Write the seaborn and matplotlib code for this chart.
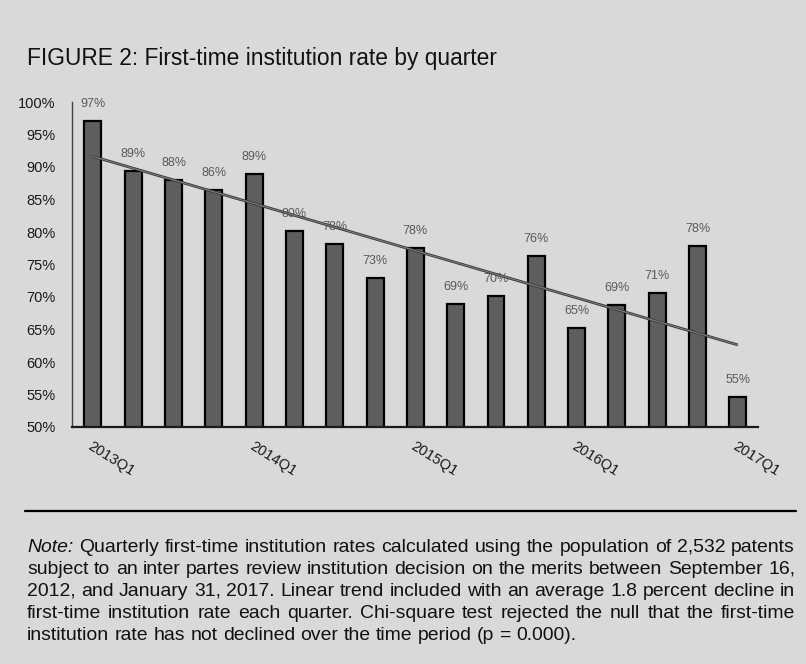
import numpy as np
import pandas as pd
import matplotlib
matplotlib.use("Agg")
import matplotlib.pyplot as plt
import seaborn as sns

# Quarterly first-time institution rates (percent)
quarters = ["2013Q1", "2013Q2", "2013Q3", "2013Q4",
            "2014Q1", "2014Q2", "2014Q3", "2014Q4",
            "2015Q1", "2015Q2", "2015Q3", "2015Q4",
            "2016Q1", "2016Q2", "2016Q3", "2016Q4",
            "2017Q1"]
rates = [97.1, 89.4, 88.0, 86.4, 88.9, 80.1, 78.2, 72.9, 77.6,
         68.9, 70.2, 76.3, 65.3, 68.8, 70.6, 77.8, 54.6]
tick_quarters = ["2013Q1", "2014Q1", "2015Q1", "2016Q1", "2017Q1"]
y_ticks = [50, 55, 60, 65, 70, 75, 80, 85, 90, 95, 100]

title = "FIGURE 2: First-time institution rate by quarter"
note_lines = [
    "Note: Quarterly first-time institution rates calculated using the population of 2,532 patents",
    "subject to an inter partes review institution decision on the merits between September 16,",
    "2012, and January 31, 2017. Linear trend included with an average 1.8 percent decline in",
    "first-time institution rate each quarter. Chi-square test rejected the null that the first-time",
    "institution rate has not declined over the time period (p = 0.000).",
]

sns.set_style("white")
plt.rcParams["font.family"] = ["Liberation Sans", "DejaVu Sans"]

BG = "#d9d9d9"
W_PX, H_PX = 806, 664
fig = plt.figure(figsize=(W_PX / 100, H_PX / 100), dpi=100, facecolor=BG)

def fx(px):
    return px / W_PX

def fy(py):
    return 1 - py / H_PX

ax = fig.add_axes([fx(72), fy(427), fx(758) - fx(72), fy(102) - fy(427)])
ax.set_facecolor(BG)

df = pd.DataFrame({"quarter": quarters, "rate": rates})
sns.barplot(data=df, x="quarter", y="rate", color="#5e5e5e", saturation=1,
            edgecolor="black", linewidth=1.6, width=0.42, ax=ax, zorder=2)

ax.set_ylim(50, 100)
ax.set_xlim(-0.52, len(quarters) - 0.5)
ax.set_yticks(y_ticks)
ax.set_yticklabels([f"{v}%" for v in y_ticks], fontsize=10.5, color="#1a1a1a")
tick_pos = [quarters.index(q) for q in tick_quarters]
ax.set_xticks(tick_pos)
ax.set_xticklabels(tick_quarters, rotation=-32, ha="left", va="top",
                   rotation_mode="anchor", fontsize=10.5, color="#1a1a1a")
ax.tick_params(axis="x", length=0, pad=9)
ax.tick_params(axis="y", length=0, pad=12)
ax.set_xlabel("")
ax.set_ylabel("")

for side in ["top", "right"]:
    ax.spines[side].set_visible(False)
ax.spines["left"].set_color("#404040")
ax.spines["left"].set_linewidth(1.0)
ax.spines["bottom"].set_color("#1a1a1a")
ax.spines["bottom"].set_linewidth(1.6)
ax.spines["bottom"].set_zorder(4)

# value labels
for i, v in enumerate(rates):
    ax.annotate(f"{v:.0f}%", (i, v), xytext=(0, 14), textcoords="offset pixels",
                ha="center", va="baseline", fontsize=9, color="#5a5a5a", zorder=3)

# linear trend
xs = np.arange(len(rates))
slope, intercept = np.polyfit(xs, rates, 1)
ends = np.array([xs[0], xs[-1]])
ax.plot(ends, intercept + slope * ends, color="#3c3c3c", lw=2.0, zorder=5,
        solid_capstyle="butt")
ax.plot(ends, intercept + slope * ends, color="#8c8c8c", lw=0.6, zorder=6,
        solid_capstyle="butt")

# title
fig.text(fx(27), fy(65), title, fontsize=16.4, color="#111111", va="baseline", ha="left")

# separator rule
fig.add_artist(plt.Line2D([fx(25), fx(796)], [fy(511), fy(511)],
                          color="black", lw=1.6, transform=fig.transFigure))

# justified note paragraph
fig.canvas.draw()
renderer = fig.canvas.get_renderer()

def text_width(s, size, style="normal"):
    t = fig.text(0, 0, s, fontsize=size, fontstyle=style)
    w = t.get_window_extent(renderer).width
    t.remove()
    return w

left_px, right_px = 27, 795
span = right_px - left_px
base = 12.0
widest = max(text_width(l, base) for l in note_lines[:-1])
note_size = base * span * 0.995 / widest

space_w = text_width("a a", note_size) - text_width("aa", note_size)
baseline0, line_gap = 552, 22
for li, line in enumerate(note_lines):
    words = line.split(" ")
    styles = ["italic" if (li == 0 and wi == 0) else "normal" for wi in range(len(words))]
    widths = [text_width(w, note_size, s) for w, s in zip(words, styles)]
    if li < len(note_lines) - 1:
        gap = (span - sum(widths)) / (len(words) - 1)
    else:
        gap = space_w
    x = left_px
    y = baseline0 + li * line_gap
    for w, s, wd in zip(words, styles, widths):
        fig.text(fx(x), fy(y), w, fontsize=note_size, fontstyle=s,
                 color="#111111", ha="left", va="baseline")
        x += wd + gap

fig.savefig("out.png", dpi=100, facecolor=BG)
